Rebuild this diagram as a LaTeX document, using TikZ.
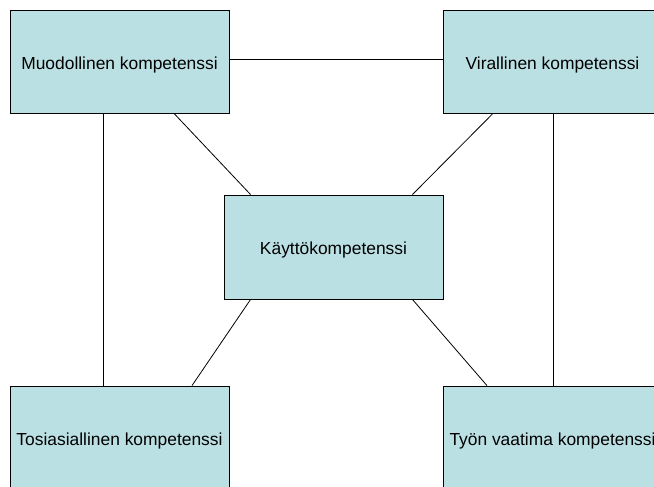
\documentclass[tikz,border=0pt]{standalone}
\usepackage{fontspec}
\setmainfont{Liberation Sans}
\definecolor{boxfill}{RGB}{187,224,227}
\begin{document}
\begin{tikzpicture}[x=1pt,y=-1pt,
  box/.style={draw=black,fill=boxfill,line width=0.8pt,inner sep=0pt,
    minimum width=219pt,minimum height=103pt,text height=19pt,text depth=3.65pt,
    font=\fontsize{17.4}{20}\selectfont},
  conn/.style={draw=black,line width=0.8pt}]
\useasboundingbox (0,0) rectangle (654,487);
\clip (0,0) rectangle (654,487);
\fill[white] (0,0) rectangle (654,487);
\node[box] (tl) at (119.5,61.5) {Muodollinen kompetenssi};
\node[box] (tr) at (552.5,61.5) {Virallinen kompetenssi};
\node[box,minimum height=104pt] (c) at (333.5,247) {Käyttökompetenssi};
\node[box] (bl) at (119.5,437.5) {Tosiasiallinen kompetenssi};
\node[box] (br) at (552.5,437.5) {Työn vaatima kompetenssi};
\draw[conn] ([yshift=2pt]tl.east) -- ([yshift=2pt]tr.west);
\draw[conn] ([xshift=-16.5pt]tl.south) -- ([xshift=-16.5pt]bl.north);
\draw[conn] ([xshift=0.5pt]tr.south) -- ([xshift=0.5pt]br.north);
\draw[conn] ([xshift=54.5pt]tl.south) -- ([xshift=27pt]c.north west);
\draw[conn] ([xshift=-59.5pt]tr.south) -- ([xshift=-31pt]c.north east);
\draw[conn] ([xshift=27pt]c.south west) -- ([xshift=72.5pt]bl.north);
\draw[conn] ([xshift=-31pt]c.south east) -- ([xshift=-65.5pt]br.north);
\end{tikzpicture}
\end{document}
